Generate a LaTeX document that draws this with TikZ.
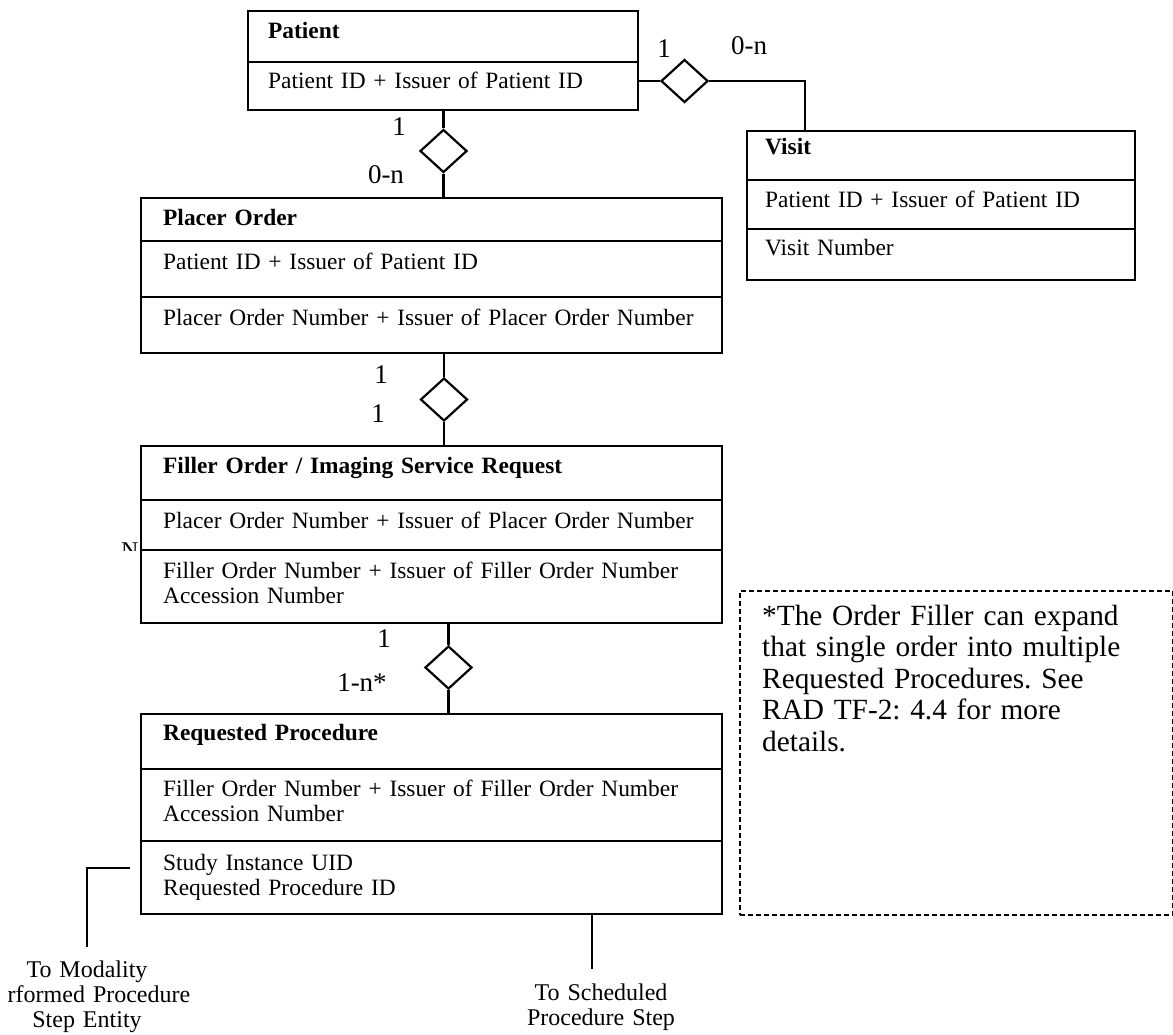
\documentclass[tikz,border=0pt]{standalone}
\usepackage{fontspec}
\setmainfont{Liberation Serif}
\usetikzlibrary{shapes.geometric}
\frenchspacing
\begin{document}
\begin{tikzpicture}[x=1pt,y=-1pt,
  ent/.style={draw, line width=2.4pt, inner sep=0pt, anchor=north west},
  notebox/.style={draw, line width=2pt, dash pattern=on 5pt off 3pt, inner sep=0pt, anchor=north west},
  rel/.style={draw, diamond, line width=2.2pt, inner sep=0pt, minimum width=47pt, minimum height=43pt},
  conn/.style={line width=2.4pt},
  attr/.style={anchor=base west, inner sep=0pt, font=\fontsize{23.4}{25}\selectfont, text width=560pt, align=left},
  ttl/.style={attr, font=\fontsize{23.4}{25}\selectfont\bfseries},
  card/.style={inner sep=0pt, font=\fontsize{27}{30}\selectfont},
  ext/.style={anchor=base, inner sep=0pt, font=\fontsize{24}{25}\selectfont, text width=240pt, align=center},
  notetext/.style={anchor=base west, inner sep=0pt, font=\fontsize{29.3}{31.5}\selectfont, text width=420pt, align=left},
  ]
\useasboundingbox (0,0) rectangle (1173,1034);

% entity boxes
\node[ent, minimum width=390pt, minimum height=99pt] (patient) at (247,10) {};
\node[ent, minimum width=388pt, minimum height=149pt] (visit) at (746,130) {};
\node[ent, minimum width=581pt, minimum height=155pt] (placer) at (140,197) {};
\node[ent, minimum width=581pt, minimum height=177pt] (filler) at (140,445) {};
\node[ent, minimum width=581pt, minimum height=200pt] (req) at (140,713) {};
\node[notebox, minimum width=433pt, minimum height=324pt] (note) at (739,590) {};

% dividers
\draw[conn] (patient.west |- 0,62) -- (patient.east |- 0,62);
\draw[conn] (visit.west |- 0,180) -- (visit.east |- 0,180);
\draw[conn] (visit.west |- 0,229) -- (visit.east |- 0,229);
\draw[conn] (placer.west |- 0,241) -- (placer.east |- 0,241);
\draw[conn] (placer.west |- 0,297) -- (placer.east |- 0,297);
\draw[conn] (filler.west |- 0,500) -- (filler.east |- 0,500);
\draw[conn] (filler.west |- 0,550) -- (filler.east |- 0,550);
\draw[conn] (req.west |- 0,769) -- (req.east |- 0,769);
\draw[conn] (req.west |- 0,841) -- (req.east |- 0,841);

% texts
\node[ttl] (patientT) at (268,38) {Patient};
\node[attr] (patientA) at (268,88) {Patient ID + Issuer of Patient ID};

\node[ttl] (visitT) at (765,154) {Visit};
\node[attr] (visitA) at (765,207) {Patient ID + Issuer of Patient ID};
\node[attr] (visitB) at (765,255) {Visit Number};

\node[ttl] (placerT) at (163,225) {Placer Order};
\node[attr] (placerA) at (163,269) {Patient ID + Issuer of Patient ID};
\node[attr] (placerB) at (163,325) {Placer Order Number + Issuer of Placer Order Number};

\node[ttl] (fillerT) at (163,473) {Filler Order / Imaging Service Request};
\node[attr] (fillerA) at (163,528) {Placer Order Number + Issuer of Placer Order Number};
\node[attr] (fillerB) at (163,578) {Filler Order Number + Issuer of Filler Order Number\\Accession Number};

\node[ttl] (reqT) at (163,740) {Requested Procedure};
\node[attr] (reqA) at (163,796) {Filler Order Number + Issuer of Filler Order Number\\Accession Number};
\node[attr] (reqB) at (163,870) {Study Instance UID\\Requested Procedure ID};

\node[notetext] (noteT) at (762,625) {*The Order Filler can expand\\that single order into multiple\\Requested Procedures. See\\RAD TF-2: 4.4 for more\\details.};

% cut-off N
\begin{scope}
  \clip (100,530) rectangle (139,550);
  \node[anchor=base west, inner sep=0pt, font=\fontsize{24}{25}\selectfont] (ncut) at (121,558) {N};
\end{scope}

% relationship diamonds
\node[rel] (d1) at (443.5,151) {};
\node[rel] (d2) at (684.5,81) {};
\node[rel] (d3) at (444,399.5) {};
\node[rel] (d4) at (448.5,667.5) {};

% connectors
\draw[conn] (d1.north |- patient.south) -- (d1.north);
\draw[conn] (d1.south) -- (d1.south |- placer.north);
\draw[conn] (patient.east |- d2.west) -- (d2.west);
\coordinate (vtop) at (805,130);
\draw[conn] (d2.east) -| (vtop);
\draw[conn] (d3.north |- placer.south) -- (d3.north);
\draw[conn] (d3.south) -- (d3.south |- filler.north);
\draw[conn] (d4.north |- filler.south) -- (d4.north);
\draw[conn] (d4.south) -- (d4.south |- req.north);
\coordinate (sps) at (592,969);
\draw[conn] (sps |- req.south) -- (sps);
\coordinate (mpa) at (130,868);
\coordinate (mpb) at (87,947);
\draw[conn] (mpa) -| (mpb);

% cardinalities
\node[card] (c1) at (664,49) {1};
\node[card] (c2) at (749,46) {0-n};
\node[card] (c3) at (399,127) {1};
\node[card] (c4) at (386,175) {0-n};
\node[card] (c5) at (381,375) {1};
\node[card] (c6) at (378,414) {1};
\node[card] (c7) at (384,639) {1};
\node[card] (c8) at (362,683) {1-n*};

% external references
\node[ext] (mpps) at (87,977) {To Modality\\\hphantom{Pe}rformed Procedure\\Step Entity};
\node[ext] (spsT) at (601,1000) {To Scheduled\\Procedure Step};
\end{tikzpicture}
\end{document}
